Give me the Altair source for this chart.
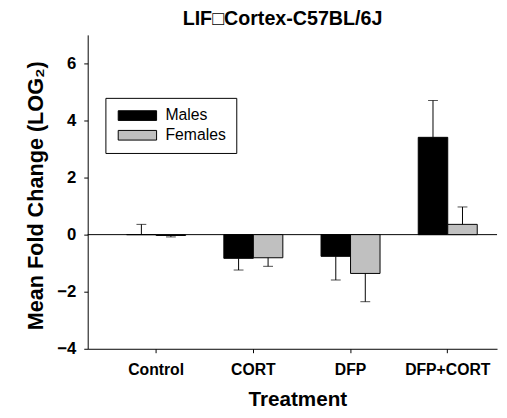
import altair as alt
import pandas as pd

treatments = ["Control", "CORT", "DFP", "DFP+CORT"]
sexes = ["Males", "Females"]
males_mean = [0.0, -0.83, -0.76, 3.41]
males_err = [0.36, 0.41, 0.83, 1.29]
females_mean = [-0.03, -0.81, -1.36, 0.36]
females_err = [0.05, 0.30, 0.99, 0.61]

rows = []
for t, m, e in zip(treatments, males_mean, males_err):
    rows.append({"treatment": t, "sex": "Males", "mean": m, "err": e})
for t, m, e in zip(treatments, females_mean, females_err):
    rows.append({"treatment": t, "sex": "Females", "mean": m, "err": e})
df = pd.DataFrame(rows)
df["err_end"] = [m + e if m >= 0 else m - e for m, e in zip(df["mean"], df["err"])]

FONT = "Liberation Sans"

x_enc = alt.X(
    "treatment:N",
    sort=treatments,
    scale=alt.Scale(paddingInner=0.393, paddingOuter=0.302, align=0.663),
    axis=alt.Axis(
        title="Treatment",
        labelAngle=0,
        labelFont=FONT,
        labelFontSize=16,
        labelFontWeight="bold",
        labelColor="black",
        labelPadding=9,
        tickSize=4,
        tickColor="black",
        domainColor="black",
        titleFont=FONT,
        titleFontSize=21,
        titleFontWeight="bold",
        titleColor="black",
        titleX=213,
        titleY=58,
        titleBaseline="alphabetic",
    ),
)
xoff = alt.XOffset("sex:N", sort=sexes)
y_scale = alt.Scale(domain=[-4, 7], nice=False, zero=False)
y_axis = alt.Axis(
    title="Mean Fold Change (LOG\u2082)",
    values=[-4, -2, 0, 2, 4, 6],
    grid=False,
    labelFont=FONT,
    labelFontSize=17,
    labelFontWeight="bold",
    labelColor="black",
    labelPadding=8,
    tickSize=4,
    tickColor="black",
    domainColor="black",
    titleFont=FONT,
    titleFontSize=22,
    titleFontWeight="bold",
    titleColor="black",
    titleX=-53,
    titleY=163,
    titleBaseline="middle",
)

base = alt.Chart(df)

bars = base.mark_bar(stroke="black", strokeWidth=1).encode(
    x=x_enc,
    xOffset=xoff,
    y=alt.Y("mean:Q", scale=y_scale, axis=y_axis),
    y2=alt.Y2(datum=0),
    color=alt.Color(
        "sex:N",
        scale=alt.Scale(domain=sexes, range=["#000000", "#c0c0c0"]),
        legend=alt.Legend(
            title=None,
            orient="none",
            legendX=18,
            legendY=64,
            strokeColor="black",
            fillColor="white",
            padding=10,
            labelFont=FONT,
            labelFontSize=16,
            labelColor="black",
            labelOffset=35,
            symbolType="M-5,-4.9H34V4.9H-5Z",
            symbolSize=4,
            symbolStrokeColor="black",
            symbolStrokeWidth=1,
            symbolOpacity=1,
            rowPadding=4,
        ),
    ),
)

err_line = base.mark_rule(color="black", strokeWidth=1).encode(
    x=alt.X("treatment:N", sort=treatments),
    xOffset=xoff,
    y=alt.Y("mean:Q"),
    y2=alt.Y2("err_end:Q"),
)

err_cap = base.mark_tick(color="black", thickness=1, size=10).encode(
    x=alt.X("treatment:N", sort=treatments),
    xOffset=xoff,
    y=alt.Y("err_end:Q"),
)

zero = alt.Chart(pd.DataFrame({"z": [0]})).mark_rule(color="black", strokeWidth=1).encode(
    y=alt.Y("z:Q")
)

chart = (
    alt.layer(zero, bars, err_line, err_cap)
    .properties(
        width=416,
        height=319,
        autosize=alt.AutoSizeParams(type="none"),
        padding={"left": 81, "top": 24, "right": 2, "bottom": 66},
        title=alt.TitleParams(
            text="LIF\u25a1Cortex-C57BL/6J",
            font=FONT,
            fontSize=20,
            fontWeight="bold",
            color="black",
            anchor="middle",
            frame="group",
            dx=-10,
            dy=17,
            offset=7,
            baseline="alphabetic",
        ),
    )
    .configure_view(strokeWidth=0)
)

chart.save("out.html", embed_options={"renderer": "svg", "actions": False})
